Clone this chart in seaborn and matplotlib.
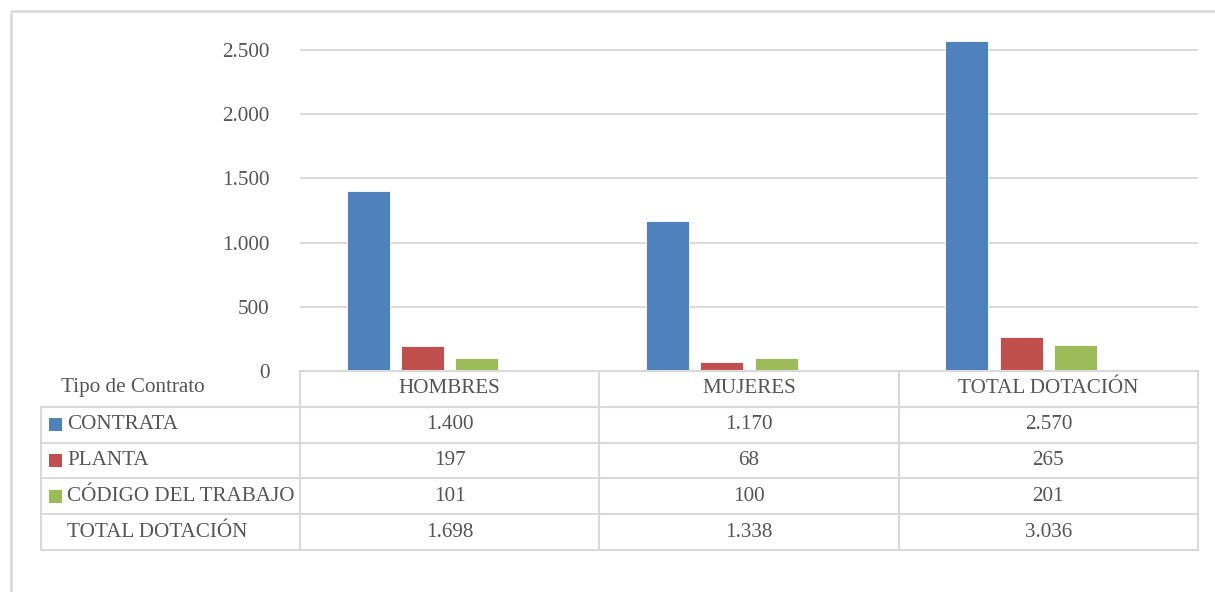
import numpy as np
import pandas as pd
import matplotlib
matplotlib.use("Agg")
import matplotlib.pyplot as plt
import seaborn as sns
from matplotlib.patches import Rectangle

# ---------------- data ----------------
categories = ["HOMBRES", "MUJERES", "TOTAL DOTACIÓN"]
series = ["CONTRATA", "PLANTA", "CÓDIGO DEL TRABAJO", "TOTAL DOTACIÓN"]
contrata = [1400, 1170, 2570]
planta = [197, 68, 265]
codigo = [101, 100, 201]
total = [1698, 1338, 3036]
yticks = [0, 500, 1000, 1500, 2000, 2500]
row_header = "Tipo de Contrato"

colors = ["#4F81BD", "#C0504D", "#9BBB59", "#FFFFFF"]
text_color = "#555555"
line_color = "#D9D9D9"


def fmt(v):
    return f"{v:,}".replace(",", ".")


values = [contrata, planta, codigo, total]
df = pd.DataFrame({
    "cat": [c for s in series for c in categories],
    "serie": [s for s in series for c in categories],
    "val": [v for vals in values for v in vals],
})

# ---------------- figure ----------------
W, H = 1215, 592
sns.set_theme(style="white")
plt.rcParams["font.family"] = ["Liberation Serif", "DejaVu Serif"]
FS = 15.2

fig = plt.figure(figsize=(W / 100, H / 100), dpi=100)
fig.patch.set_facecolor("white")

# layout: 0 at y=371 px, 2500 at y=50 px
L, R, B = 300, 1198, 371
px_per_unit = (371 - 50) / 2500
ytop = 2700
T = B - ytop * px_per_unit
ax = fig.add_axes([L / W, 1 - B / H, (R - L) / W, (B - T) / H])
sns.barplot(data=df, x="cat", y="val", hue="serie", hue_order=series,
            order=categories, palette=colors, saturation=1,
            width=0.727, gap=0.21, ax=ax, legend=False,
            edgecolor="white", linewidth=0.6, errorbar=None)
for bar in ax.containers[3]:
    bar.set_visible(False)

ax.set_xlim(-0.5, 2.5)
ax.set_ylim(0, ytop)
ax.set_yticks(yticks)
ax.set_yticklabels([fmt(v) for v in yticks])
ax.set_xticks([])
ax.set_xlabel("")
ax.set_ylabel("")
ax.tick_params(axis="y", length=0, pad=22, labelsize=FS, labelcolor=text_color)
for s in ax.spines.values():
    s.set_visible(False)
ax.yaxis.grid(True, color=line_color, lw=1.4)
ax.set_axisbelow(True)
ax.patch.set_alpha(0)

# ---------------- overlay: frame + data table ----------------
ov = fig.add_axes([0, 0, 1, 1])
ov.set_xlim(0, W)
ov.set_ylim(H, 0)
ov.axis("off")
ov.patch.set_alpha(0)

lw = 1.5
# outer chart frame
ov.plot([10.5, 10.5, W + 5], [H + 5, 10.5, 10.5], color=line_color, lw=1.8,
        solid_capstyle="butt", clip_on=False)

ncol = len(categories)
colw = (R - L) / ncol
col_edges = [L + i * colw for i in range(ncol + 1)]
row_top = B
rh = 35.8
nrows = len(series)
row_edges = [row_top + i * rh for i in range(nrows + 2)]
left_edge = 41

# horizontal lines
ov.plot([L, R], [row_edges[0]] * 2, color=line_color, lw=lw)
for y in row_edges[1:]:
    ov.plot([left_edge, R], [y, y], color=line_color, lw=lw)
# vertical lines
for x in col_edges:
    ov.plot([x, x], [row_edges[0], row_edges[-1]], color=line_color, lw=lw)
ov.plot([left_edge, left_edge], [row_edges[1], row_edges[-1]], color=line_color, lw=lw)

# header row
hy = (row_edges[0] + row_edges[1]) / 2
ov.text(61, hy - 1, row_header, ha="left", va="center", fontsize=FS, color=text_color)
for i, c in enumerate(categories):
    ov.text((col_edges[i] + col_edges[i + 1]) / 2, hy, c, ha="center",
            va="center", fontsize=FS, color=text_color)

# data rows
for r, (s, vals) in enumerate(zip(series, values)):
    cy = (row_edges[r + 1] + row_edges[r + 2]) / 2
    if r < 3:
        ov.add_patch(Rectangle((48.5, cy - 6.5), 13, 13, color=colors[r], lw=0))
    ov.text(67, cy, s, ha="left", va="center", fontsize=FS, color=text_color)
    for i, v in enumerate(vals):
        ov.text((col_edges[i] + col_edges[i + 1]) / 2, cy, fmt(v), ha="center",
                va="center", fontsize=FS, color=text_color)

fig.savefig("out.png", dpi=100, facecolor="white")
